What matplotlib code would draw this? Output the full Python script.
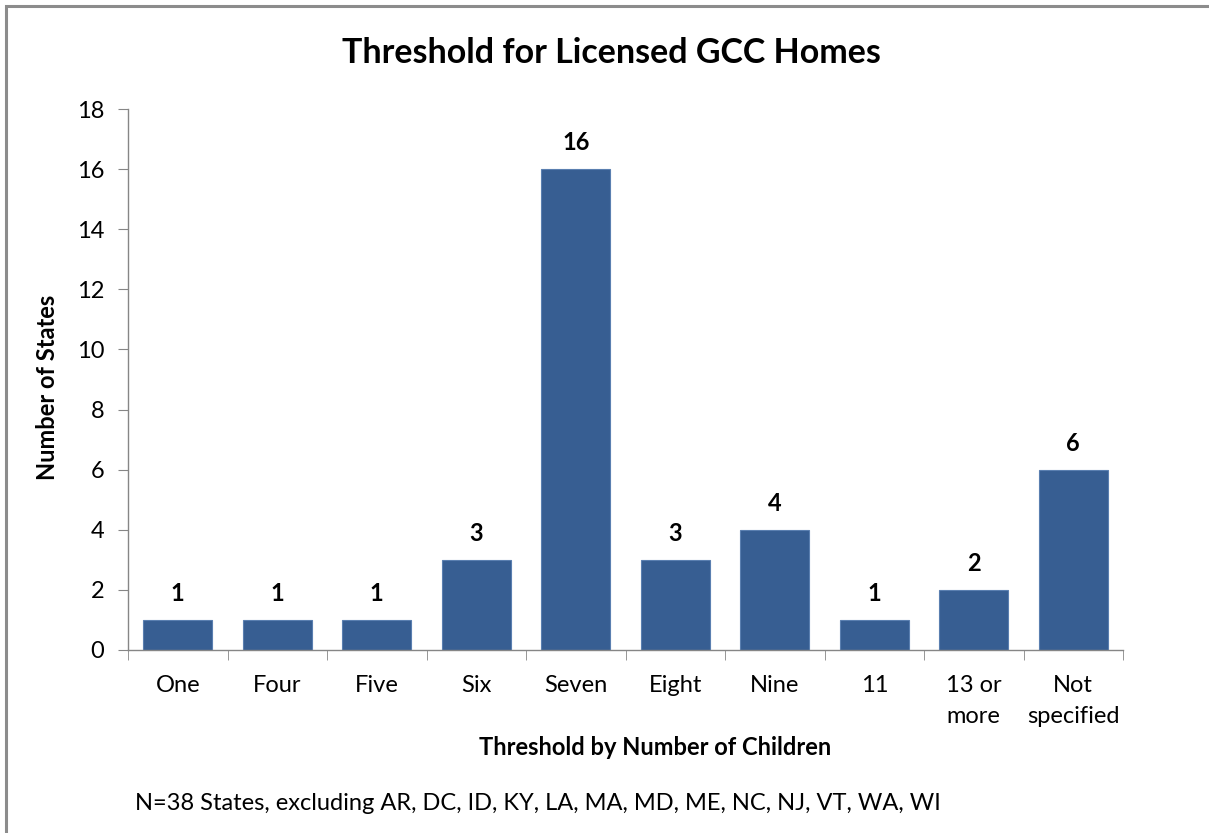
import matplotlib.pyplot as plt
from matplotlib.patches import Rectangle

plt.rcParams["font.family"] = ["Lato", "DejaVu Sans"]

# データ
categories = ["One", "Four", "Five", "Six", "Seven", "Eight", "Nine", "11", "13 or\nmore", "Not\nspecified"]
counts = [1, 1, 1, 3, 16, 3, 4, 1, 2, 6]
yticks = [0, 2, 4, 6, 8, 10, 12, 14, 16, 18]

bar_color = "#375E92"
axis_color = "#868686"

fig = plt.figure(figsize=(12.09, 8.33), dpi=100)
ax = fig.add_axes([0.1059, 0.2197, 0.823, 0.6494])

x = list(range(len(categories)))
ax.bar(x, counts, width=0.69, color=bar_color, edgecolor="#5A7FB0", linewidth=0.8, zorder=2)

# 値ラベル
for xi, v in zip(x, counts):
    ax.text(xi, v + 0.5, str(v), ha="center", va="bottom", fontsize=17, fontweight="bold")

ax.set_xlim(-0.5, len(categories) - 0.5)
ax.set_ylim(0, 18)
ax.set_yticks(yticks)
ax.set_yticklabels([str(t) for t in yticks], fontsize=17)

ax.set_xticks(x)
ax.set_xticklabels(categories, fontsize=17, linespacing=1.6)
ax.set_xticks([i - 0.5 for i in range(len(categories) + 1)], minor=True)
ax.tick_params(axis="x", which="major", length=0, pad=18)
ax.tick_params(axis="x", which="minor", length=7, color=axis_color, direction="out")
ax.tick_params(axis="y", length=7, color=axis_color, pad=10)

for side in ["top", "right"]:
    ax.spines[side].set_visible(False)
for side in ["left", "bottom"]:
    ax.spines[side].set_color(axis_color)
    ax.spines[side].set_linewidth(1.0)

ax.set_xlabel("Threshold by Number of Children", fontsize=17, fontweight="bold", labelpad=6, x=0.5296)
ax.set_ylabel("Number of States", fontsize=17, fontweight="bold", labelpad=13, y=0.485)

fig.text(0.506, 0.936, "Threshold for Licensed GCC Homes", ha="center", va="center",
         fontsize=24.5, fontweight="bold")
fig.text(0.112, 0.035, "N=38 States, excluding AR, DC, ID, KY, LA, MA, MD, ME, NC, NJ, VT, WA, WI",
         ha="left", va="center", fontsize=17)

# 外枠
fig.patches.append(Rectangle((6 / 1209, -0.1), 1.2, 1.1 - 6 / 833,
                             transform=fig.transFigure, fill=False,
                             edgecolor="#8C8C8C", linewidth=2.2))

fig.savefig("out.png", dpi=100)
